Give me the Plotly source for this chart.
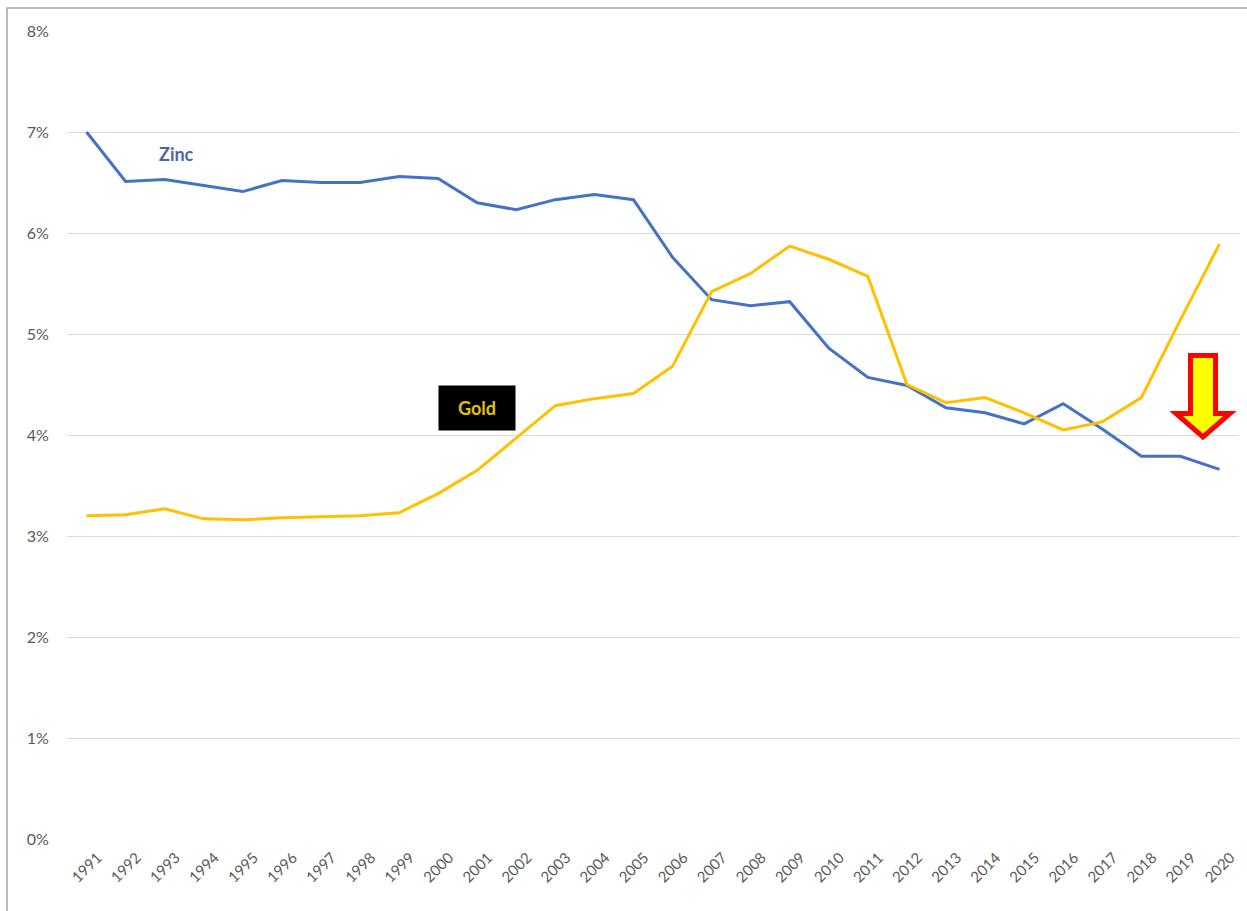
import plotly.graph_objects as go

years = [str(y) for y in range(1991, 2021)]
zinc = [7.00, 6.51, 6.53, 6.47, 6.41, 6.52, 6.50, 6.50, 6.56, 6.54,
        6.30, 6.23, 6.33, 6.38, 6.33, 5.76, 5.34, 5.28, 5.32, 4.86,
        4.57, 4.49, 4.27, 4.22, 4.11, 4.31, 4.06, 3.79, 3.79, 3.66]
gold = [3.20, 3.21, 3.27, 3.17, 3.16, 3.18, 3.19, 3.20, 3.23, 3.42,
        3.65, 3.97, 4.29, 4.36, 4.41, 4.68, 5.42, 5.60, 5.87, 5.74,
        5.57, 4.50, 4.32, 4.37, 4.22, 4.05, 4.13, 4.37, 5.14, 5.89]
y_ticks = [0, 1, 2, 3, 4, 5, 6, 7, 8]
y_labels = [f"{v}%" for v in y_ticks]

W, H = 1247, 911
ML, MR, MT, MB = 67, 8, 31, 72
PW, PH = W - ML - MR, H - MT - MB

def px(x):
    return (x - ML) / PW

def py(y):
    return (H - MB - y) / PH

fig = go.Figure()
fig.add_trace(go.Scatter(x=years, y=zinc, mode="lines", name="Zinc",
                         line=dict(color="#4472C4", width=3)))
fig.add_trace(go.Scatter(x=years, y=gold, mode="lines", name="Gold",
                         line=dict(color="#FFC000", width=3)))

# outer frame
fig.add_shape(type="rect", xref="paper", yref="paper",
              x0=px(7), x1=px(1260), y0=py(8), y1=py(930),
              line=dict(color="#A6A6A6", width=1.5), fillcolor="rgba(0,0,0,0)",
              layer="below")

# arrow
pts = [(1190.5, 355.5), (1215.5, 355.5), (1215.5, 413.5), (1230, 413.5),
       (1203, 437), (1176, 413.5), (1190.5, 413.5)]
path = "M " + " L ".join(f"{px(a):.5f},{py(b):.5f}" for a, b in pts) + " Z"
fig.add_shape(type="path", xref="paper", yref="paper", path=path,
              fillcolor="#FFFF00", line=dict(color="#FF0000", width=5))

fig.add_annotation(xref="paper", yref="paper", x=px(176), y=py(154),
                   xanchor="center", yanchor="middle",
                   text="<b>Zinc</b>", showarrow=False,
                   font=dict(family="Lato, Open Sans, sans-serif", size=18, color="#4A66A6"))
fig.add_annotation(xref="paper", yref="paper", x=px(477), y=py(408),
                   xanchor="center", yanchor="middle",
                   text="<b>Gold</b>", showarrow=False, bgcolor="#000000",
                   width=76, height=44, borderpad=0,
                   font=dict(family="Lato, Open Sans, sans-serif", size=18, color="#E6C200"))

fig.update_layout(
    width=W, height=H,
    margin=dict(l=ML, r=MR, t=MT, b=MB),
    plot_bgcolor="white", paper_bgcolor="white",
    showlegend=False,
    font=dict(family="Lato, Open Sans, sans-serif", size=14, color="#595959"),
    xaxis=dict(type="category", range=[-0.5, len(years) - 0.5], tickangle=-45,
               showgrid=False, showline=False, zeroline=False,
               ticks="outside", ticklen=3, tickcolor="rgba(0,0,0,0)",
               ticklabelshift=11,
               tickfont=dict(size=15, color="#595959")),
    yaxis=dict(range=[0, 8], tickmode="array", tickvals=y_ticks, ticktext=y_labels,
               showgrid=True, gridcolor="#D9D9D9", gridwidth=1, zeroline=False,
               showline=False, ticks="outside", ticklen=14,
               tickcolor="rgba(0,0,0,0)", tickfont=dict(size=16, color="#595959")),
)

fig.write_html("out.html", config={"displayModeBar": False},
               post_script="document.body.style.margin='0';document.body.style.padding='0';")
